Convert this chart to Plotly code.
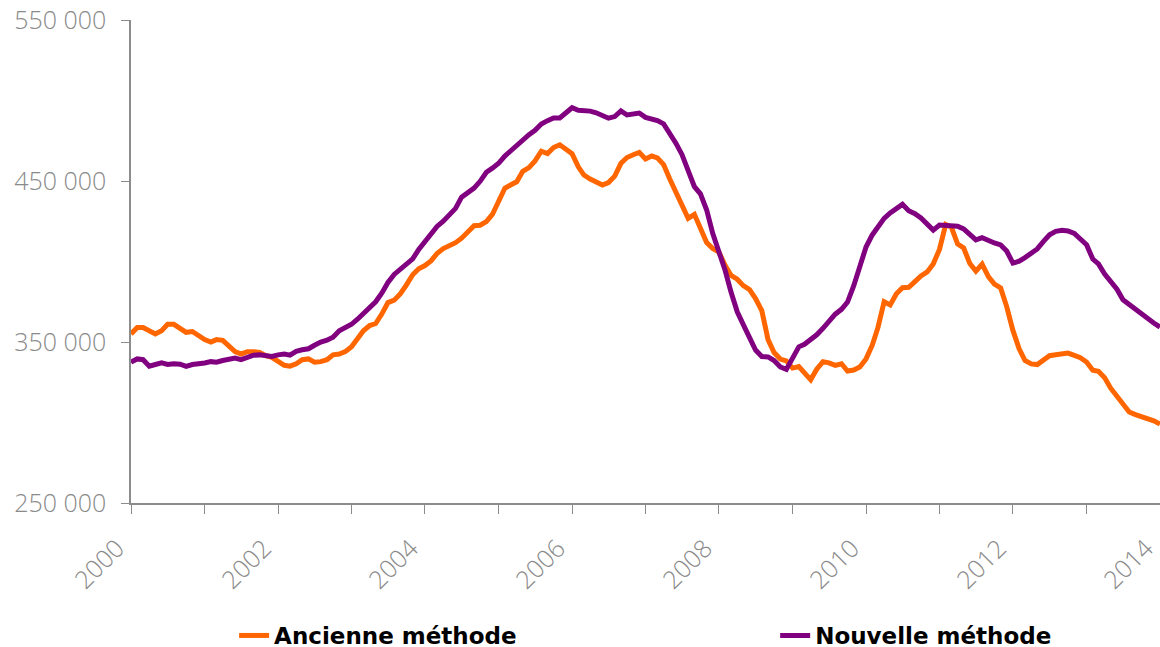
import pandas as pd
import plotly.graph_objects as go

# Monthly values, January 2000 to January 2014
months = pd.date_range("2000-01-01", "2014-01-01", freq="MS")

ancienne = [
    355, 359, 359, 357, 355, 357, 361, 361, 358, 356, 356.5, 354,
    351.5, 350, 351.5, 351, 347, 344, 342.5, 344, 344, 343.5, 341.5, 340.5,
    338, 335.5, 335, 336.5, 339, 339.5, 337.5, 337.8, 339, 342, 342.5, 344,
    347, 352.5, 357, 360.2, 361.5, 367.5, 374.5, 376, 380, 385.5, 391.8, 395.5,
    397.5, 400.5, 405, 408, 409.6, 411.7, 414.5, 418, 422.2, 422.5, 424.8, 429.2,
    438, 445.5, 447.5, 449.5, 456, 458.3, 462.5, 468.5, 467, 470.8, 472.5, 470.2,
    467, 458.8, 453.7, 451.2, 449.5, 447.5, 449, 453, 461, 464.6, 466.3, 467.8,
    463.7, 465.5, 464.4, 460.2, 451.4, 442.7, 435.3, 426.8, 429.3, 421.5, 411.8, 408,
    405.8, 397.5, 391.4, 389, 385, 382.5, 377, 369.5, 351.5, 343.5, 339.4, 338.3,
    333.8, 334.7, 330.5, 326.5, 333.1, 337.8, 337, 335.5, 336.5, 332, 332.6, 334.5,
    339.5, 348, 358.9, 375, 373, 380, 383.7, 384, 387.5, 391, 393.5, 398.5,
    407.5, 423, 421.4, 411, 408.5, 398.7, 394, 398.4, 390.6, 386, 383.6, 372,
    357.2, 345.8, 338.5, 336.4, 336, 338.7, 341.5, 342.1, 342.6, 343.1, 341.7, 340.3,
    337.6, 332.5, 331.8, 327.8, 321.3, 316, 311, 306.5, 304.9, 303.6, 302.6, 301,
    299,
]

nouvelle = [
    337.5, 339.5, 339, 335, 336, 337, 336, 336.5, 336.2, 334.9, 336, 336.3,
    337, 337.8, 337.5, 338.5, 339.4, 340, 339, 340.8, 341.8, 342, 341.4, 341,
    342, 342.5, 341.8, 344.2, 345.2, 345.8, 348, 350, 351.1, 353, 357, 359,
    361, 364.3, 367.6, 371.4, 375, 380.5, 387, 392, 395.2, 398.4, 401.6, 407.5,
    412.4, 417, 421.8, 425, 428.5, 433, 440, 443.2, 445.6, 449.8, 455.4, 458,
    461, 465.5, 468.6, 472.5, 476, 478.8, 481.5, 485.4, 487.5, 489.2, 489.2, 492.8,
    495.5, 493.9, 493.9, 493.4, 492.4, 491, 489, 490, 493.5, 491, 491.5, 492.2,
    489.5, 488.6, 487.5, 485.5, 480, 473.5, 466.5, 457, 446.5, 442, 432, 417.5,
    406, 394.4, 381, 368.8, 360.8, 352, 345, 341, 340.7, 338.5, 334.5, 333,
    340, 347, 348.6, 351.3, 354.5, 358.5, 363, 367.3, 370.3, 374.8, 385, 396.5,
    409, 416.5, 421.9, 426.8, 430.2, 432.8, 435.5, 431.5, 429.7, 427, 422.7, 419.5,
    422.7, 422.2, 421.9, 421.9, 420.2, 416.8, 413.4, 414.8, 412.9, 411.5, 410.3, 406.5,
    399, 400.2, 402.4, 405, 407.8, 412.5, 416.6, 418.7, 419.4, 419, 417.5, 414,
    410.4, 401.5, 398.5, 392.2, 387, 382.8, 376.2, 373.2, 370.2, 367.5, 364.2, 361.8,
    359.3,
]

series_names = ["Ancienne méthode", "Nouvelle méthode"]
series_colors = ["#FF6600", "#800080"]
legend_ids = ["legend", "legend2"]

y_tick_values = [250000, 350000, 450000, 550000]
y_tick_labels = ["250 000", "350 000", "450 000", "550 000"]

x_tick_years = ["2000", "2002", "2004", "2006", "2008", "2010", "2012", "2014"]

fig = go.Figure()
for name, vals, col, lg in zip(series_names, [ancienne, nouvelle], series_colors, legend_ids):
    fig.add_trace(go.Scatter(
        x=months, y=[v * 1000 for v in vals], mode="lines", name=name,
        line=dict(color=col, width=5), legend=lg,
    ))

axis_grey = "#8C8C8C"
tick_font = dict(family="Open Sans, sans-serif", size=25, color="#8A8A8A", weight=300)
legend_font = dict(family="DejaVu Sans, sans-serif", size=23, color="black", weight="bold")

fig.update_layout(
    width=1160, height=657,
    margin=dict(l=131, r=0, t=20, b=154),
    paper_bgcolor="white", plot_bgcolor="white",
    showlegend=True,
    legend=dict(
        orientation="h", x=0.1002, xanchor="left", y=-0.275, yanchor="middle",
        font=legend_font, bgcolor="rgba(0,0,0,0)",
    ),
    legend2=dict(
        orientation="h", x=0.626, xanchor="left", y=-0.275, yanchor="middle",
        font=legend_font, bgcolor="rgba(0,0,0,0)",
    ),
    xaxis=dict(
        range=[months[0], months[-1]],
        tickvals=[pd.Timestamp(y + "-01-01") for y in x_tick_years],
        ticktext=x_tick_years,
        tickangle=-45,
        ticks="outside", ticklen=9, tickcolor=axis_grey, tickwidth=1,
        minor=dict(dtick="M12", tick0="2000-01-01", ticks="outside", ticklen=9,
                   tickcolor=axis_grey, tickwidth=1, showgrid=False),
        showline=True, linecolor=axis_grey, linewidth=1.5,
        showgrid=False, zeroline=False,
        tickfont=tick_font, automargin=False, ticklabeloverflow="allow",
        ticklabelshift=-14, ticklabelstandoff=10,
    ),
    yaxis=dict(
        range=[250000, 550000],
        tickvals=y_tick_values, ticktext=y_tick_labels,
        ticks="outside", ticklen=8, tickcolor=axis_grey, tickwidth=1,
        showline=True, linecolor=axis_grey, linewidth=1.5,
        showgrid=False, zeroline=False,
        tickfont=tick_font, automargin=False, ticklabeloverflow="allow",
        ticklabelstandoff=10,
    ),
)

# remove the default page margin so the figure starts at the window's corner
fig.write_html(
    "out.html",
    config={"displayModeBar": False},
    post_script="document.body.style.margin='0';document.body.style.overflow='hidden';",
)
